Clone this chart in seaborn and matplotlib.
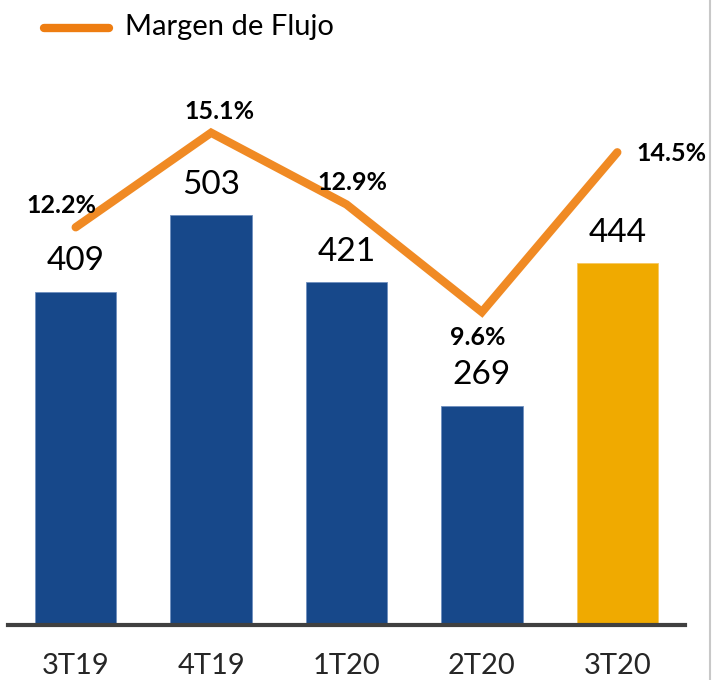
import pandas as pd
import numpy as np
import seaborn as sns
import matplotlib.pyplot as plt
from matplotlib.lines import Line2D

periodos = ['3T19', '4T19', '1T20', '2T20', '3T20']
flujo = [409, 503, 421, 269, 444]
margen = [12.2, 15.1, 12.9, 9.6, 14.5]
etiquetas_margen = ['12.2%', '15.1%', '12.9%', '9.6%', '14.5%']

azul = '#17488A'
amarillo = '#F0AA00'
naranja = '#F08A24'

sns.set_theme(style='white')
plt.rcParams['font.family'] = ['Lato', 'DejaVu Sans']

df = pd.DataFrame({'periodo': periodos, 'flujo': flujo, 'margen': margen})

fig = plt.figure(figsize=(7.13, 6.8), dpi=100)
ax = fig.add_axes([8 / 713, 55 / 680, 677 / 713, 565 / 680])

#? barras
colores = [azul] * 4 + [amarillo]
sns.barplot(x='periodo', y='flujo', data=df, hue='periodo', palette=colores,
            legend=False, width=0.6, ax=ax, saturation=1)
for p in ax.patches:
    p.set_edgecolor('#6F8FBF')
    p.set_linewidth(0.6)
ax.patches[-1].set_edgecolor('#F7C860')

ax.set_xlim(-0.5, 4.5)
ax.set_ylim(0, 565 / 0.815)
for i, v in enumerate(flujo):
    ax.annotate(str(v), (i, v), xytext=(0, 11), textcoords='offset points',
                ha='center', va='bottom', fontsize=24, color='black')

ax.set_xlabel('')
ax.set_ylabel('')
ax.set_yticks([])
ax.tick_params(axis='x', length=0, labelsize=21, pad=20)
for s in ['top', 'right', 'left']:
    ax.spines[s].set_visible(False)
ax.spines['bottom'].set_color('#404040')
ax.spines['bottom'].set_linewidth(3)

#? linea de margen
ax2 = ax.twinx()
ax2.plot(range(len(periodos)), margen, color=naranja, lw=6,
         solid_capstyle='round', solid_joinstyle='miter')
ax2.set_ylim(0, 565 / 32.6)
ax2.set_yticks([])
for s in ax2.spines.values():
    s.set_visible(False)

desplaz = [(-10, 16), (6, 15), (4, 16), (-3, -18), (39, -1)]
for i, (m, t) in enumerate(zip(margen, etiquetas_margen)):
    ax2.annotate(t, (i, m), xytext=desplaz[i], textcoords='offset points',
                 ha='center', va='center', fontsize=18, fontweight='bold', color='black')

#? leyenda
fig.add_artist(Line2D([44 / 713, 109 / 713], [1 - 28 / 680, 1 - 28 / 680],
                      color='#EE7D11', lw=6, solid_capstyle='round'))
fig.text(125 / 713, 1 - 27 / 680, 'Margen de Flujo', fontsize=21,
         ha='left', va='center', color='black')

fig.add_artist(Line2D([710 / 713, 710 / 713], [0, 1], color='#C8C8C8', lw=1.5))

plt.savefig('out.png', dpi=100)
